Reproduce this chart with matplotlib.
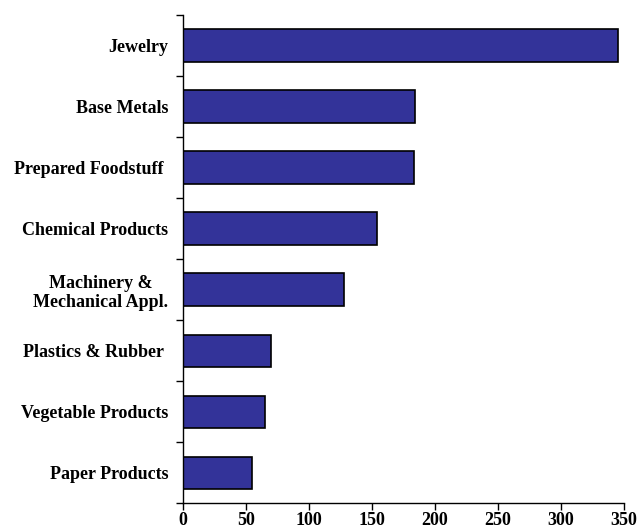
import matplotlib
matplotlib.use('Agg')
import matplotlib.pyplot as plt

# data (top to bottom)
categories = ['Jewelry', 'Base Metals', 'Prepared Foodstuff ', 'Chemical Products',
              'Machinery &\nMechanical Appl.', 'Plastics & Rubber ',
              'Vegetable Products', 'Paper Products']
values = [345, 184, 183, 154, 128, 70, 65, 55]
xticks = [0, 50, 100, 150, 200, 250, 300, 350]

plt.rcParams['font.family'] = ['Liberation Serif', 'DejaVu Serif']
plt.rcParams['font.weight'] = 'bold'

fig = plt.figure(figsize=(6.38, 5.29), dpi=100)
ax = fig.add_axes([0.2868, 0.0486, 0.6912, 0.923])

n = len(categories)
ypos = list(range(n - 1, -1, -1))
ax.barh(ypos, values, height=0.53, color='#333399', edgecolor='black', linewidth=1.2)

ax.set_xlim(0, 350)
ax.set_ylim(-0.5, n - 0.5)
ax.set_xticks(xticks)
ax.set_xticklabels([str(t) for t in xticks], fontsize=13, fontweight='bold')

# category labels between boundary ticks
ax.set_yticks([y + 0.5 for y in range(-1, n)])
ax.set_yticklabels([])
ax.set_yticks(ypos, minor=True)
ax.set_yticklabels(categories, minor=True, fontsize=13, fontweight='bold')
for lab in ax.get_yticklabels(minor=True):
    lab.set_multialignment('center')
    lab.set_linespacing(1.15)
ax.tick_params(axis='y', which='minor', length=0, pad=10.5)
ax.tick_params(axis='y', which='major', length=5, width=1, direction='out')
ax.tick_params(axis='x', length=5, width=1, direction='out', pad=1.5)

ax.spines['top'].set_visible(False)
ax.spines['right'].set_visible(False)
ax.spines['left'].set_linewidth(1)
ax.spines['bottom'].set_linewidth(1)

fig.savefig('out.png', dpi=100)
